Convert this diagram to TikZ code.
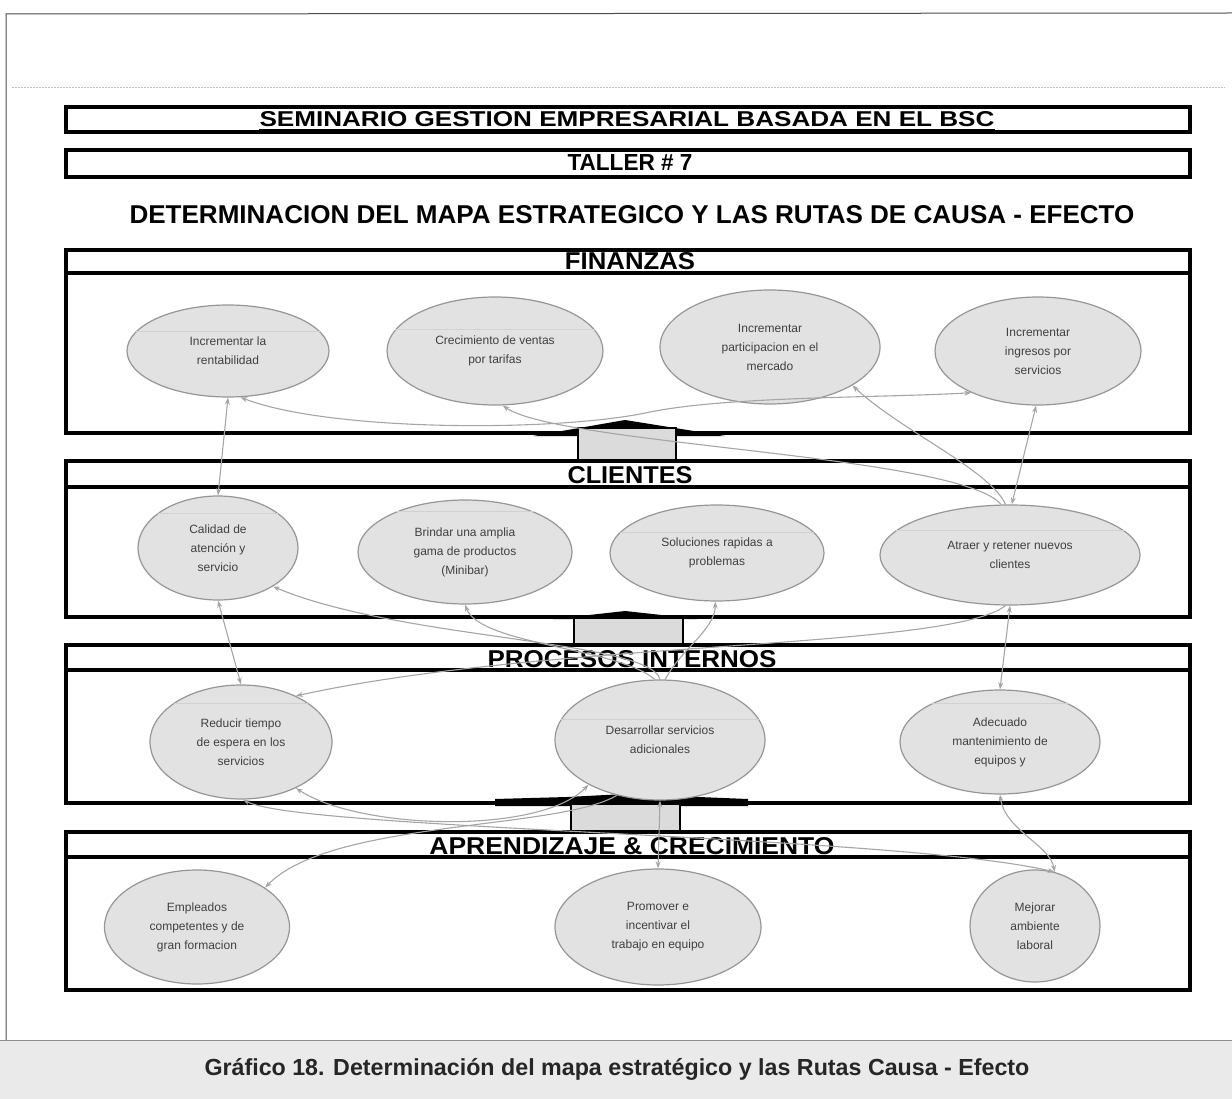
\documentclass[tikz,border=0pt]{standalone}
\usepackage{fontspec}
\setmainfont{Liberation Sans}
\usepackage{graphicx}
\usetikzlibrary{shapes.geometric,arrows.meta}
\definecolor{ovalfill}{RGB}{226,226,226}
\definecolor{ovalline}{RGB}{150,150,150}
\definecolor{linkgray}{RGB}{165,165,165}
\definecolor{capband}{RGB}{234,234,234}
% bold capitals stretched to a given width and cap height
\newcommand{\fitcaps}[3]{\resizebox{#1}{#2}{\bfseries #3}}

\begin{document}
\begin{tikzpicture}[x=1pt,y=-1pt,
  goal/.style={ellipse, draw=ovalline, fill=ovalfill, line width=1.2pt, inner sep=0pt,
    font=\fontsize{12}{19}\selectfont, text=black!75, align=center},
  chord/.style={draw=black!18, line width=0.8pt},
  frame/.style={draw=black, line width=3.5pt},
  headtext/.style={anchor=base, inner sep=0pt},
  link/.style={draw=linkgray, line width=1.1pt, -{Stealth[length=7pt,width=5pt]}},
  linkboth/.style={link, {Stealth[length=7pt,width=5pt]}-{Stealth[length=7pt,width=5pt]}},
  block/.style={draw=black, line width=2.5pt, fill=black!14},
]
\useasboundingbox (0,0) rectangle (1232,1099);

% page frame, rule and caption band
\draw[black!70, line width=1pt] (6,1040) -- (6,14) -- (1232,13);
\draw[black!25, line width=1pt, dash pattern=on 2pt off 1pt] (12,88) -- (1225,88);
\fill[capband] (0,1040) rectangle (1232,1099);
\draw[black!45, line width=1pt] (0,1040) -- (1232,1040);
\node[headtext] (caption) at (617,1075)
  {\resizebox{825pt}{!}{\bfseries\color{black!85}Gráfico 18. Determinación del mapa estratégico y las Rutas Causa - Efecto}};

% heading boxes
\draw[frame] (66,107) rectangle (1190,132);
\node[headtext] (sem) at (627,127) {\fitcaps{735pt}{15pt}{SEMINARIO GESTION EMPRESARIAL BASADA EN EL BSC}};
\draw[line width=1.5pt] ([yshift=-2.5pt]sem.south west) -- ([yshift=-2.5pt]sem.south east);
\draw[frame] (66,150) rectangle (1190,177);
\node[headtext] (taller) at (630,171) {\fitcaps{125pt}{16pt}{TALLER \# 7}};
\node[headtext] (title) at (632,224) {\fitcaps{1005pt}{18pt}{DETERMINACION DEL MAPA ESTRATEGICO Y LAS RUTAS DE CAUSA - EFECTO}};

% perspective panels
\draw[frame] (66,250) rectangle (1190,433);
\draw[frame] (66,273) -- (1190,273);
\node[headtext] (hFin) at (630,270) {\fitcaps{130pt}{17pt}{FINANZAS}};

\draw[frame] (66,461) rectangle (1190,617);
\draw[frame] (66,487) -- (1190,487);
\node[headtext] (hCli) at (630,483) {\fitcaps{125pt}{17pt}{CLIENTES}};

\draw[frame] (66,645) rectangle (1190,803);
\draw[frame] (66,670) -- (1190,670);
\node[headtext] (hPro) at (632,667) {\fitcaps{289pt}{17pt}{PROCESOS INTERNOS}};

\draw[frame] (66,832) rectangle (1190,990);
\draw[frame] (66,857) -- (1190,857);
\node[headtext] (hApr) at (632,854) {\fitcaps{405pt}{17pt}{APRENDIZAJE \& CRECIMIENTO}};

% block arrows between panels
\fill[black] (533,436) -- (625,420) -- (725,436) -- cycle;
\draw[block] (578,428) rectangle (676,460);
\fill[black] (553,619) -- (625,611) -- (698,619) -- cycle;
\draw[block] (574,618) rectangle (683,644);
\fill[black] (495,799) -- (567,797) -- (625,794) -- (748,799) -- (748,806) -- (495,806) -- cycle;
\draw[block] (571,804) rectangle (680,831);

% objectives: finanzas
\node[goal, minimum width=202pt, minimum height=92pt]  (E1) at (228,351) {Incrementar la\\rentabilidad};
\node[goal, minimum width=216pt, minimum height=108pt] (E2) at (495,351) {Crecimiento de ventas\\por tarifas};
\node[goal, minimum width=220pt, minimum height=114pt] (E3) at (770,347) {Incrementar\\participacion en el\\mercado};
\node[goal, minimum width=206pt, minimum height=108pt] (E4) at (1038,351) {Incrementar\\ingresos por\\servicios};
% objectives: clientes
\node[goal, minimum width=160pt, minimum height=104pt] (C1) at (218,548) {Calidad de\\atención y\\servicio};
\node[goal, minimum width=214pt, minimum height=104pt] (C2) at (465,552) {Brindar una amplia\\gama de productos\\(Minibar)};
\node[goal, minimum width=214pt, minimum height=96pt]  (C3) at (717,553) {Soluciones rapidas a\\problemas};
\node[goal, minimum width=260pt, minimum height=100pt] (C4) at (1010,555) {Atraer y retener nuevos\\clientes};
% objectives: procesos internos
\node[goal, minimum width=182pt, minimum height=114pt] (P1) at (241,742) {Reducir tiempo\\de espera en los\\servicios};
\node[goal, minimum width=210pt, minimum height=120pt] (P2) at (660,740) {Desarrollar servicios\\adicionales};
\node[goal, minimum width=200pt, minimum height=104pt] (P3) at (1000,742) {Adecuado\\mantenimiento de\\equipos y};
% objectives: aprendizaje y crecimiento
\node[goal, minimum width=185pt, minimum height=114pt] (A1) at (197,927) {Empleados\\competentes y de\\gran formacion};
\node[goal, minimum width=206pt, minimum height=116pt] (A2) at (658,927) {Promover e\\incentivar el\\trabajo en equipo};
\node[goal, minimum width=130pt, minimum height=112pt] (A3) at (1035,926) {Mejorar\\ambiente\\laboral};

% faint guide line across the upper part of the ovals
\foreach \g in {E1,E2,C3,C4,P2}
  \draw[chord] (\g.168) -- (\g.12);
\foreach \g in {C1,C2,P1,P3}
  \draw[chord] (\g.150) -- (\g.30);

% cause-effect links
\draw[linkboth] (E1.south) -- (C1.north);
\draw[linkboth] (E1.-75) .. controls (330,432) and (560,432) .. (650,412)
                         .. controls (730,396) and (880,398) .. (E4.-148);
\draw[link] (C4.100) .. controls (960,455) and (560,445) .. (E2.-82);
\draw[link] (C4.95) .. controls (990,470) and (900,430) .. (E3.-25);
\draw[linkboth] (C4.88) -- (E4.-92);

\draw[linkboth] (C1.south) -- (P1.north);
\draw[link] (P2.north) .. controls (650,640) and (400,640) .. (C1.-35);
\draw[link] (P2.95) .. controls (620,648) and (480,645) .. (C2.south);
\draw[link] (P2.85) .. controls (680,650) and (715,630) .. (C3.-92);
\draw[linkboth] (C4.south) -- (P3.north);
\draw[link] (C4.-95) .. controls (950,650) and (550,640) .. (P1.40);

\draw[linkboth] (P1.-88) .. controls (300,830) and (900,835) .. (A3.70);
\draw[linkboth] (P1.-40) .. controls (360,830) and (540,835) .. (P2.-148);
\draw[link] (P2.-128) .. controls (560,830) and (330,820) .. (A1.30);
\draw[linkboth] (P2.south) -- (A2.north);
\draw[linkboth] (P3.south) .. controls (1005,830) and (1050,845) .. (A3.70);

\end{tikzpicture}
\end{document}
